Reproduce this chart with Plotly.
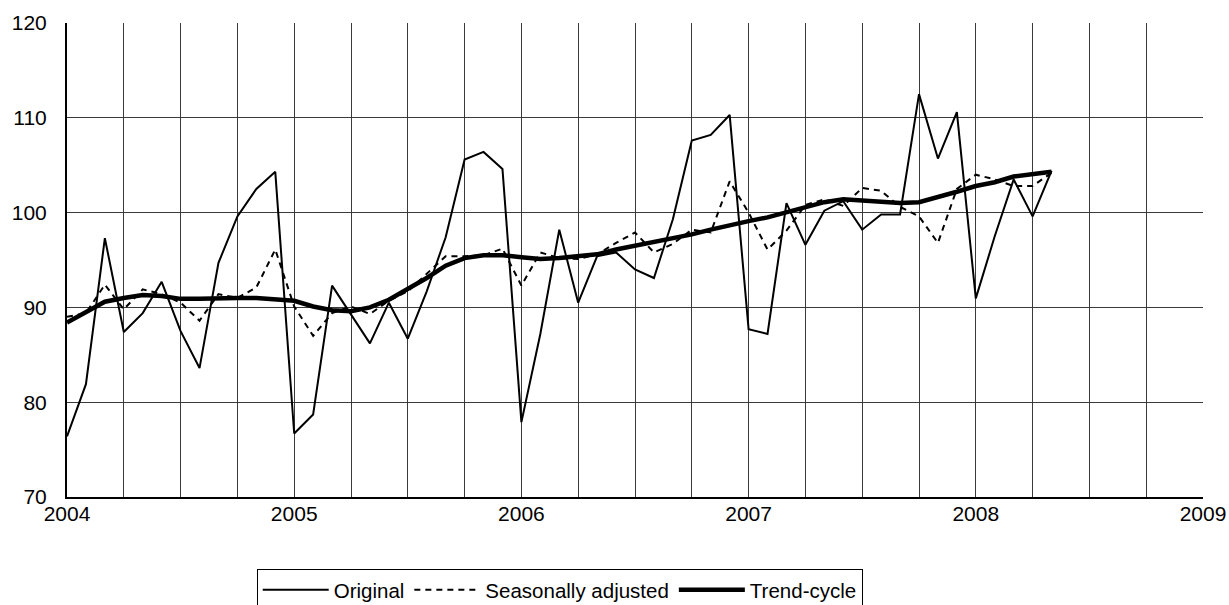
import plotly.graph_objects as go

start_year = 2004
original = [76.4, 81.9, 97.3, 87.4, 89.4, 92.7, 87.5, 83.6, 94.7, 99.6, 102.5, 104.3,
            76.7, 78.7, 92.3, 89.3, 86.2, 90.5, 86.7, 91.7, 97.4, 105.6, 106.4, 104.6,
            77.9, 87.2, 98.2, 90.5, 95.4, 95.8, 94.0, 93.1, 99.3, 107.6, 108.2, 110.3,
            87.7, 87.2, 101.0, 96.6, 100.2, 101.2, 98.2, 99.8, 99.8, 112.5, 105.7, 110.6,
            90.95, 97.5, 103.5, 99.6, 104.4]
seasonally_adjusted = [89.0, 89.4, 92.4, 89.8, 91.9, 91.4, 90.5, 88.6, 91.4, 91.0, 92.1, 96.1,
                       90.1, 87.0, 89.4, 90.1, 89.3, 90.7, 91.7, 93.5, 95.4, 95.4, 95.5, 96.2,
                       92.3, 95.8, 95.2, 95.1, 95.6, 96.8, 97.9, 95.8, 96.7, 98.2, 97.9, 103.3,
                       100.0, 96.1, 98.1, 100.8, 101.4, 100.7, 102.6, 102.3, 100.6, 99.6, 96.8, 102.5,
                       104.0, 103.5, 102.8, 102.8, 104.2]
trend_cycle = [88.4, 89.5, 90.6, 91.0, 91.3, 91.2, 90.9, 90.9, 91.0, 91.0, 91.0, 90.9,
               90.7, 90.1, 89.7, 89.6, 90.0, 90.8, 91.9, 93.1, 94.4, 95.2, 95.5, 95.5,
               95.3, 95.1, 95.2, 95.4, 95.6, 96.1, 96.5, 96.8, 97.3, 97.7, 98.2, 98.7,
               99.1, 99.5, 100.0, 100.5, 101.1, 101.4, 101.3, 101.1, 101.0, 101.1, 101.6, 102.2,
               102.8, 103.2, 103.8, 104.0, 104.3]
x_vals = [start_year + i / 12 for i in range(len(original))]
year_ticks = [2004, 2005, 2006, 2007, 2008, 2009]
y_ticks = [70, 80, 90, 100, 110, 120]

fig = go.Figure()
fig.add_trace(go.Scatter(x=x_vals, y=original, mode="lines", name="Original",
                         line=dict(color="black", width=2)))
fig.add_trace(go.Scatter(x=x_vals, y=seasonally_adjusted, mode="lines", name="Seasonally adjusted",
                         line=dict(color="black", width=2, dash="6px,5px")))
fig.add_trace(go.Scatter(x=x_vals, y=trend_cycle, mode="lines", name="Trend-cycle",
                         line=dict(color="black", width=4.5)))

font = "Arial, Liberation Sans, sans-serif"
fig.update_layout(
    width=1229, height=605,
    margin=dict(l=67, r=26, t=23, b=108, autoexpand=False),
    paper_bgcolor="white", plot_bgcolor="white",
    font=dict(family=font, size=21, color="black"),
    showlegend=True,
    legend=dict(orientation="h", x=0.167, xanchor="left", y=-0.152, yanchor="top",
                bordercolor="black", borderwidth=1, bgcolor="white",
                font=dict(size=20.5, family=font, color="black"),
                itemwidth=66, tracegroupgap=0),
    xaxis=dict(range=[2004, 2009], tickmode="array", tickvals=year_ticks,
               ticktext=[str(v) for v in year_ticks],
               tickfont=dict(size=21),
               showgrid=True, gridcolor="#3a3a3a", gridwidth=1,
               minor=dict(dtick=0.25, tick0=2004, showgrid=True, gridcolor="#3a3a3a", gridwidth=1),
               showline=True, linecolor="black", linewidth=2,
               ticks="", ticklabelstandoff=-3,
               zeroline=False, fixedrange=True, automargin=False),
    yaxis=dict(range=[70, 120], tickvals=y_ticks,
               tickfont=dict(size=21),
               showgrid=True, gridcolor="#3a3a3a", gridwidth=1,
               showline=True, linecolor="black", linewidth=2,
               ticks="outside", ticklen=14, tickcolor="white",
               zeroline=False, fixedrange=True, automargin=False),
)
fig.write_html("out.html", config={"displayModeBar": False},
               post_script="document.body.style.margin='0px';")
